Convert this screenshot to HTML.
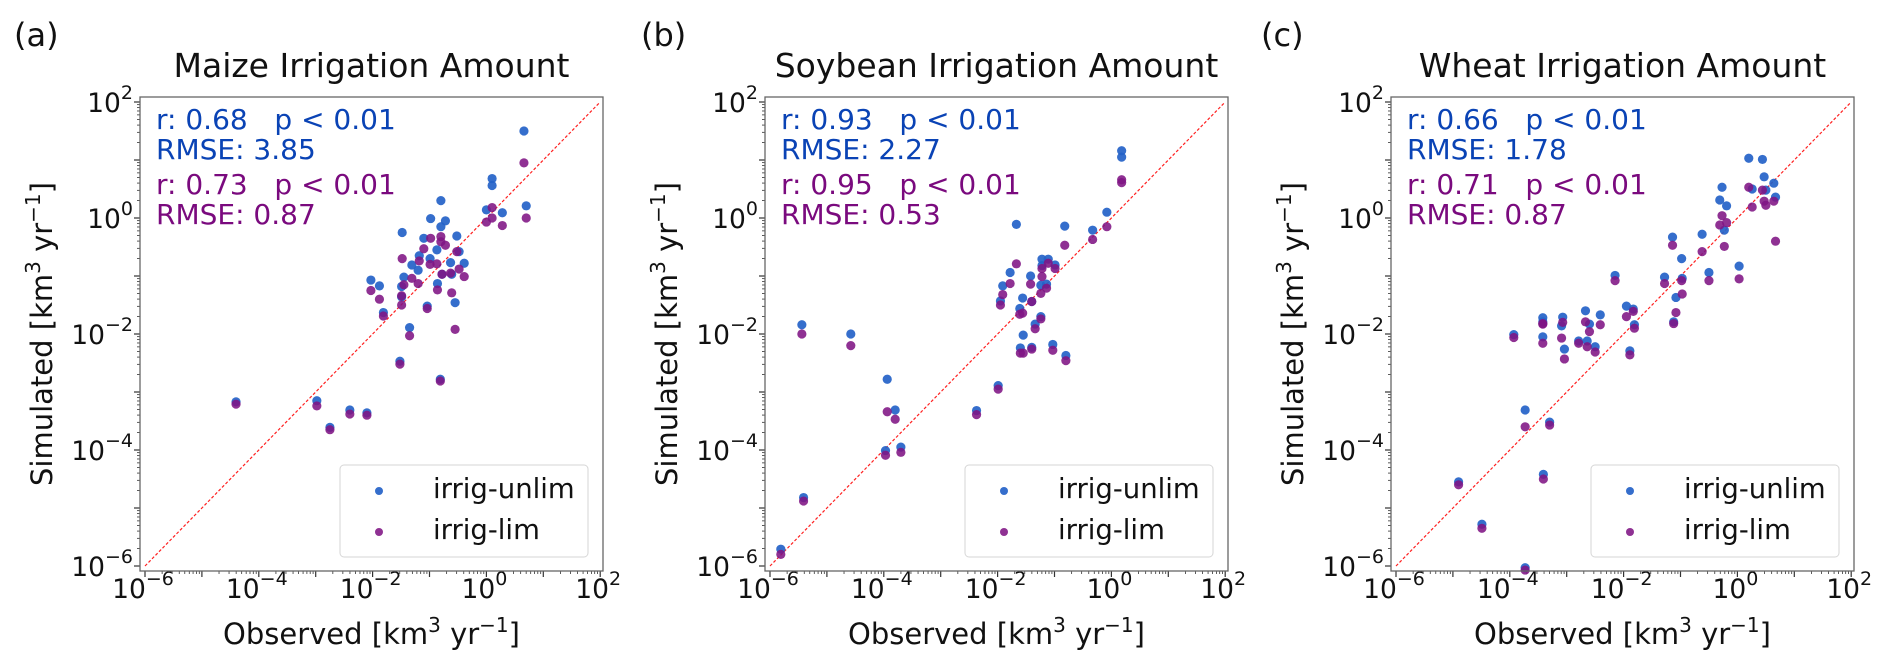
<!DOCTYPE html>
<html><head><meta charset="utf-8"><style>
body{margin:0;background:#fff;}
svg{display:block;font-family:"DejaVu Sans","Liberation Sans",sans-serif;}
</style></head><body>
<svg id="fig" width="1892" height="669" viewBox="0 0 1892 669"></svg>
<script>
// ---- data (log10 of km3/yr) ----
const panelTitles = ["Maize Irrigation Amount","Soybean Irrigation Amount","Wheat Irrigation Amount"];
const panelLetters = ["(a)","(b)","(c)"];
const statsUnlim = [["r: 0.68\u00a0\u00a0\u00a0p < 0.01","RMSE: 3.85"],["r: 0.93\u00a0\u00a0\u00a0p < 0.01","RMSE: 2.27"],["r: 0.66\u00a0\u00a0\u00a0p < 0.01","RMSE: 1.78"]];
const statsLim = [["r: 0.73\u00a0\u00a0\u00a0p < 0.01","RMSE: 0.87"],["r: 0.95\u00a0\u00a0\u00a0p < 0.01","RMSE: 0.53"],["r: 0.71\u00a0\u00a0\u00a0p < 0.01","RMSE: 0.87"]];
const tickExps = [-6,-4,-2,0,2];

const maizeObs = [-4.40,-2.98,-2.75,-2.40,-2.10,-2.03,-1.88,-1.81,-1.52,-1.48,-1.49,-1.49,-1.45,-1.35,-1.31,-1.20,-1.18,-1.10,-1.04,-0.99,-0.98,-0.87,-0.86,-0.81,-0.80,-0.80,-0.72,-0.78,-0.61,-0.63,-0.55,-0.52,-0.48,-0.39,0.00,0.10,0.10,0.28,0.66,0.70];
const maizeUnlim = [-3.17,-3.15,-3.61,-3.31,-3.36,-1.07,-1.17,-1.63,-2.47,-0.25,-1.36,-1.18,-1.02,-1.89,-0.81,-0.90,-0.65,-0.35,-1.52,-0.70,-0.01,-0.55,-1.13,-2.78,0.30,-0.15,-0.05,-0.97,-0.97,-0.77,-1.46,-0.31,-0.58,-0.78,0.14,0.68,0.56,0.09,1.50,0.21];
const maizeLim = [-3.21,-3.24,-3.65,-3.38,-3.40,-1.25,-1.40,-1.69,-2.52,-0.70,-1.50,-1.34,-1.15,-2.03,-1.04,-1.13,-0.74,-0.53,-1.56,-0.80,-0.35,-0.79,-1.24,-2.81,-0.41,-0.32,-0.47,-0.97,-1.29,-0.95,-1.92,-0.58,-0.88,-1.01,-0.07,0.18,0.00,-0.13,0.95,0.00];

const soyObs = [-5.81,-5.41,-5.44,-4.58,-3.94,-3.80,-3.97,-3.70,-2.37,-1.99,-1.95,-1.91,-1.78,-1.67,-1.61,-1.56,-1.55,-1.60,-1.42,-1.40,-1.40,-1.34,-1.24,-1.22,-1.22,-1.24,-1.14,-1.11,-1.03,-0.99,-0.82,-0.80,-0.33,-0.08,0.18,0.18];
const soyUnlim = [-5.71,-4.82,-1.84,-2.00,-2.78,-3.31,-4.01,-3.95,-3.32,-2.89,-1.43,-1.17,-0.94,-0.11,-1.56,-1.38,-2.02,-2.24,-1.00,-2.23,-1.44,-1.83,-1.70,-0.71,-0.82,-1.16,-1.14,-0.71,-2.18,-0.81,-0.14,-2.37,-0.21,0.10,1.16,1.05];
const soyLim = [-5.80,-4.88,-2.00,-2.20,-3.34,-3.47,-4.09,-4.04,-3.39,-2.95,-1.50,-1.32,-1.13,-0.79,-1.66,-1.64,-2.33,-2.33,-1.14,-2.26,-1.44,-1.91,-1.74,-0.87,-1.01,-1.30,-1.21,-0.78,-2.28,-0.87,-0.47,-2.46,-0.37,-0.15,0.66,0.61];

const wheatObs = [-3.73,-4.49,-4.90,-3.41,-3.73,-3.30,-3.93,-3.42,-3.42,-3.42,-3.07,-3.09,-3.04,-2.67,-2.60,-2.41,-2.79,-2.64,-2.50,-2.15,-1.95,-1.83,-1.81,-1.89,-1.28,-1.14,-0.98,-0.97,-1.08,-1.12,-0.62,-0.50,0.03,-0.31,-0.27,-0.19,-0.23,0.20,0.44,0.47,0.26,0.50,0.64,0.67];
const wheatUnlim = [-6.03,-5.28,-4.55,-4.42,-3.31,-3.52,-2.01,-1.72,-1.79,-2.05,-1.71,-1.86,-2.26,-1.60,-1.83,-1.67,-2.12,-2.12,-2.22,-0.99,-1.52,-1.57,-1.84,-2.29,-1.02,-0.33,-0.70,-1.04,-1.37,-1.79,-0.28,-0.94,-0.83,0.31,0.53,0.21,-0.21,1.03,1.01,0.71,0.50,0.48,0.60,0.36];
const wheatLim = [-6.07,-5.35,-4.60,-4.50,-3.60,-3.57,-2.06,-1.83,-1.82,-2.16,-1.80,-2.07,-2.43,-1.79,-1.96,-1.84,-2.16,-2.22,-2.31,-1.08,-1.70,-1.61,-1.90,-2.36,-1.13,-0.47,-1.08,-1.31,-1.63,-1.82,-0.58,-1.08,-1.05,-0.12,0.04,-0.08,-0.49,0.53,0.48,0.29,0.19,0.22,0.29,-0.40];

const obsSets = [maizeObs, soyObs, wheatObs];
const unlimSets = [maizeUnlim, soyUnlim, wheatUnlim];
const limSets = [maizeLim, soyLim, wheatLim];

// ---- layout ----
const NS = "http://www.w3.org/2000/svg";
const svg = document.getElementById("fig");
const lefts = [140, 765, 1391];
const W = 463, TOP = 97, BOT = 571;
const DX = 56.9, DY = 58;
const BLUE = "rgba(36,98,200,0.92)", PURPLE = "rgba(128,20,132,0.88)";
function mk(tag, attrs, parent){ const e=document.createElementNS(NS,tag); for(const k in attrs) e.setAttribute(k,attrs[k]); (parent||svg).appendChild(e); return e; }
function xs(L, lg){ return L + 5 + (lg + 6) * DX; }
function ys(lg){ return 102 + (2 - lg) * DY; }
function powLabel(parent, x, y, exp, anchor, name){
  const t = mk("text",{x:x,y:y,"font-size":26.5,fill:"#111","text-anchor":anchor},parent);
  
  
  t.appendChild(document.createTextNode("10"));
  const s = mk("tspan",{dy:-13,"font-size":19},t);
  s.textContent = exp < 0 ? "\u2212" + Math.abs(exp) : String(exp);
}
const unitMarkup = '[km<tspan dy="-12" font-size="20">3</tspan><tspan dy="12"> yr</tspan><tspan dy="-12" font-size="20">\u22121</tspan><tspan dy="12">]</tspan>';

for (let p = 0; p < 3; p++) {
  const L = lefts[p];
  const g = mk("g",{});
  
  

  const letter = mk("text",{x:[14,641,1261][p],y:46,"font-size":32,fill:"#111"},g);
  
  
  letter.textContent = panelLetters[p];

  const title = mk("text",{x:L+W/2,y:77,"font-size":33,fill:"#111","text-anchor":"middle"},g);
  
  
  title.textContent = panelTitles[p];

  for (let k = -6; k <= 2; k++) {
    for (let m = 1; m <= 9; m++) {
      if (k === 2 && m > 1) break;
      const lg = k + Math.log10(m);
      const len = m === 1 ? 6 : 3;
      const tx = mk("line",{x1:xs(L,lg),x2:xs(L,lg),y1:BOT,y2:BOT+len,stroke:"#333","stroke-width":m===1?1.2:0.8},g);
      
      
      const ty = mk("line",{x1:L-len,x2:L,y1:ys(lg),y2:ys(lg),stroke:"#333","stroke-width":m===1?1.2:0.8},g);
      
      
    }
  }
  tickExps.forEach(e => {
    powLabel(g, xs(L,e)-2, 598, e, "middle", 'x-tick-label');
    powLabel(g, L-7, ys(e)+10, e, "end", 'y-tick-label');
  });

  const xl = mk("text",{x:L+W/2,y:644,"font-size":29,fill:"#111","text-anchor":"middle"},g);
  
  
  xl.innerHTML = 'Observed ' + unitMarkup;
  const yl = mk("text",{x:0,y:0,"font-size":29,fill:"#111","text-anchor":"middle",transform:`translate(${L-88},${(TOP+BOT)/2}) rotate(-90)`},g);
  
  
  yl.innerHTML = 'Simulated ' + unitMarkup;

  const d = mk("line",{x1:xs(L,-6),y1:ys(-6),x2:xs(L,2),y2:ys(2),stroke:"#ff2020","stroke-width":1.2,"stroke-dasharray":"3,2"},g);
  
  

  const obs = obsSets[p], un = unlimSets[p], li = limSets[p];
  for (let i = 0; i < obs.length; i++) {
    const c = mk("circle",{cx:xs(L,obs[i]),cy:ys(un[i]),r:4.6,fill:BLUE},g);
    
    
  }
  for (let i = 0; i < obs.length; i++) {
    const c = mk("circle",{cx:xs(L,obs[i]),cy:ys(li[i]),r:4.6,fill:PURPLE},g);
    
    
  }

  const fr = mk("rect",{x:L,y:TOP,width:W,height:BOT-TOP,fill:"none",stroke:"#666","stroke-width":1.3},g);
  
  

  const lines = [[statsUnlim[p][0],"#0a43b5"],[statsUnlim[p][1],"#0a43b5"],[statsLim[p][0],"#7a0a7e"],[statsLim[p][1],"#7a0a7e"]];
  const by = [129,159,194,224];
  lines.forEach((ln, j) => {
    const t = mk("text",{x:L+16,y:by[j],"font-size":28,fill:ln[1]},g);
    
    
    t.textContent = ln[0];
  });

  const lg = mk("g",{},g);
  
  
  const lb = mk("rect",{x:L+200,y:465,width:248,height:92,rx:4,fill:"rgba(255,255,255,0.8)",stroke:"#d6d6d6","stroke-width":1},lg);
  
  
  [["irrig-unlim",BLUE,491],["irrig-lim",PURPLE,532]].forEach(e => {
    const m = mk("circle",{cx:L+239,cy:e[2],r:4,fill:e[1]},lg);
    
    
    const t = mk("text",{x:L+293,y:e[2]+7,"font-size":27.5,fill:"#111"},lg);
    
    
    t.textContent = e[0];
  });
}
</script>
</body></html>
